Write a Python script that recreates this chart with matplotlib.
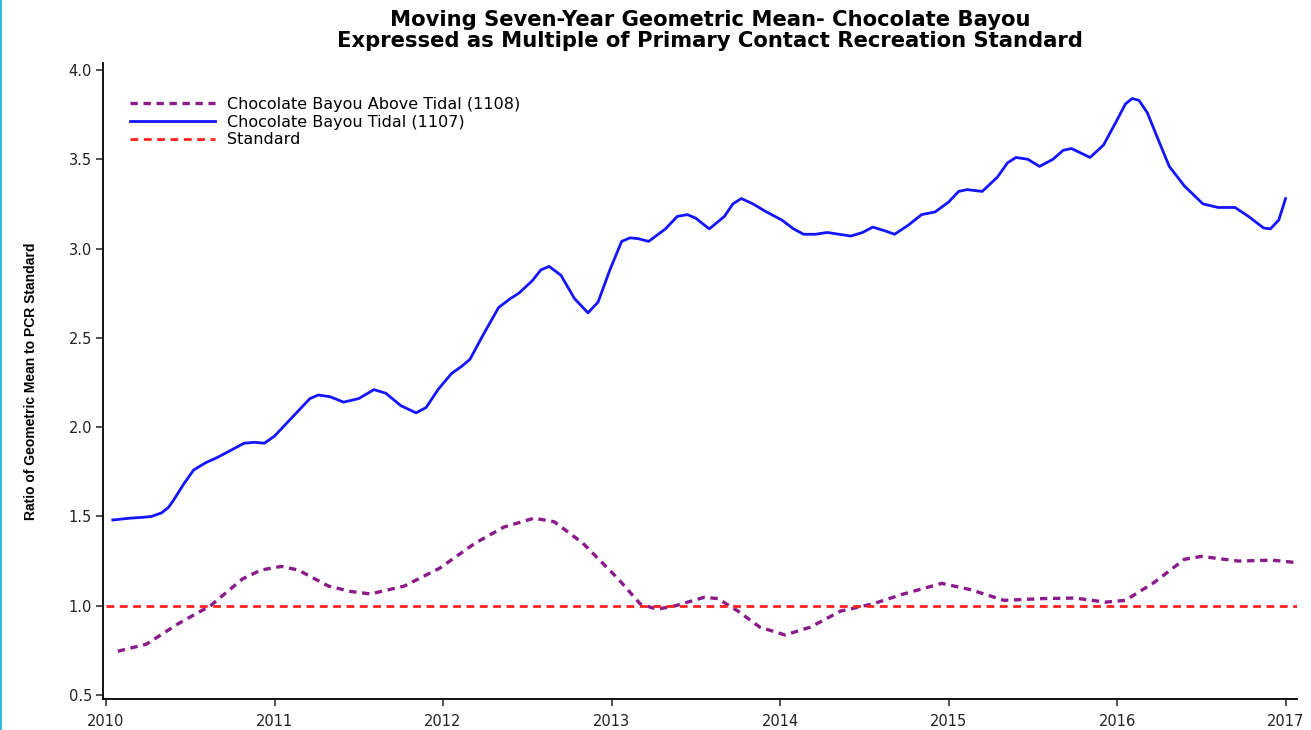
import matplotlib
matplotlib.use('Agg')
import matplotlib.pyplot as plt
from matplotlib.patches import Rectangle

# 读图估计的数据点 (年份, 比值)
TIDAL_X = [2010.04, 2010.14, 2010.22, 2010.27, 2010.33, 2010.37, 2010.40, 2010.46, 2010.52,
           2010.59, 2010.66, 2010.74, 2010.82, 2010.88, 2010.94, 2011.00, 2011.08, 2011.16,
           2011.21, 2011.26, 2011.33, 2011.41, 2011.50, 2011.59, 2011.66, 2011.75, 2011.84,
           2011.90, 2011.97, 2012.05, 2012.11, 2012.16, 2012.24, 2012.33, 2012.40, 2012.45,
           2012.53, 2012.58, 2012.63, 2012.70, 2012.78, 2012.86, 2012.92, 2012.99, 2013.06,
           2013.11, 2013.16, 2013.22, 2013.32, 2013.39, 2013.45, 2013.50, 2013.58, 2013.67,
           2013.72, 2013.77, 2013.84, 2013.91, 2014.01, 2014.08, 2014.14, 2014.21, 2014.28,
           2014.35, 2014.42, 2014.49, 2014.55, 2014.62, 2014.68, 2014.76, 2014.84, 2014.92,
           2015.00, 2015.06, 2015.11, 2015.20, 2015.29, 2015.35, 2015.40, 2015.47, 2015.54,
           2015.62, 2015.68, 2015.73, 2015.84, 2015.92, 2016.00, 2016.05, 2016.09, 2016.13,
           2016.18, 2016.24, 2016.31, 2016.40, 2016.51, 2016.60, 2016.70, 2016.78, 2016.87,
           2016.91, 2016.96, 2017.00]
TIDAL_Y = [1.48, 1.49, 1.495, 1.50, 1.52, 1.55, 1.59, 1.68, 1.76,
           1.80, 1.83, 1.87, 1.91, 1.915, 1.91, 1.95, 2.03, 2.11,
           2.16, 2.18, 2.17, 2.14, 2.16, 2.21, 2.19, 2.12, 2.08,
           2.11, 2.21, 2.30, 2.34, 2.38, 2.52, 2.67, 2.72, 2.75,
           2.82, 2.88, 2.90, 2.85, 2.72, 2.64, 2.70, 2.88, 3.04,
           3.06, 3.055, 3.04, 3.11, 3.18, 3.19, 3.17, 3.11, 3.18,
           3.25, 3.28, 3.25, 3.21, 3.16, 3.11, 3.08, 3.08, 3.09,
           3.08, 3.07, 3.09, 3.12, 3.10, 3.08, 3.13, 3.19, 3.205,
           3.26, 3.32, 3.33, 3.32, 3.40, 3.48, 3.51, 3.50, 3.46,
           3.50, 3.55, 3.56, 3.51, 3.58, 3.72, 3.81, 3.84, 3.83,
           3.76, 3.62, 3.46, 3.35, 3.25, 3.23, 3.23, 3.18, 3.115,
           3.11, 3.16, 3.28]

ABOVE_X = [2010.07, 2010.24, 2010.43, 2010.62, 2010.81, 2010.92, 2011.04, 2011.14, 2011.32,
           2011.45, 2011.57, 2011.77, 2011.98, 2012.19, 2012.36, 2012.54, 2012.66, 2012.83,
           2013.04, 2013.17, 2013.27, 2013.38, 2013.55, 2013.63, 2013.75, 2013.88, 2014.03,
           2014.18, 2014.36, 2014.55, 2014.73, 2014.96, 2015.13, 2015.33, 2015.56, 2015.75,
           2015.93, 2016.05, 2016.22, 2016.40, 2016.50, 2016.72, 2016.92, 2017.08]
ABOVE_Y = [0.745, 0.785, 0.90, 1.00, 1.15, 1.20, 1.22, 1.20, 1.11,
           1.08, 1.066, 1.11, 1.21, 1.35, 1.44, 1.49, 1.47, 1.35,
           1.15, 1.01, 0.98, 1.00, 1.047, 1.04, 0.97, 0.88, 0.836,
           0.88, 0.97, 1.01, 1.065, 1.125, 1.09, 1.03, 1.04, 1.043,
           1.02, 1.03, 1.13, 1.26, 1.276, 1.25, 1.255, 1.24]

STD_X = [2010.0, 2017.068]
STD_Y = [1.0, 1.0]

YTICKS = [0.5, 1.0, 1.5, 2.0, 2.5, 3.0, 3.5, 4.0]
XTICKS = [2010, 2011, 2012, 2013, 2014, 2015, 2016, 2017]

plt.rcParams['font.family'] = ['DejaVu Sans']

fig = plt.figure(figsize=(13.11, 7.30), dpi=100)
ax = fig.add_axes([103 / 1311, 1 - 699 / 730, 1194 / 1311, 636 / 730])

ax.plot(ABOVE_X, ABOVE_Y, color='#8b1a8b', lw=2.4, dashes=(2.2, 1.7),
        label='Chocolate Bayou Above Tidal (1108)')
ax.plot(TIDAL_X, TIDAL_Y, color='#1414ff', lw=2.0, solid_joinstyle='round',
        label='Chocolate Bayou Tidal (1107)')
ax.plot(STD_X, STD_Y, color='#ff2020', lw=2.0, dashes=(2.8, 2.0), label='Standard')

ax.set_xlim(2009.982, 2017.068)
ax.set_ylim(0.4776, 4.039)
ax.set_xticks(XTICKS)
ax.set_yticks(YTICKS)
ax.set_yticklabels([f'{v:.1f}' for v in YTICKS])
for s in ('top', 'right'):
    ax.spines[s].set_visible(False)
for s in ('left', 'bottom'):
    ax.spines[s].set_linewidth(1.3)
ax.tick_params(axis='both', direction='out', length=5, width=1.1, labelsize=10.5,
               colors='#222222', pad=3)
ax.tick_params(axis='x', pad=6)

ax.set_ylabel('Ratio of Geometric Mean to PCR Standard', family=['Liberation Sans'],
              fontweight='bold', fontsize=10, labelpad=22)

leg = ax.legend(loc='upper left', bbox_to_anchor=(0.0226, 0.947), frameon=False, fontsize=11.5,
                handlelength=5.3, handletextpad=0.8, labelspacing=0.18,
                borderpad=0, borderaxespad=0)

fig.text(0.5416, 0.973, 'Moving Seven-Year Geometric Mean- Chocolate Bayou', ha='center', va='center',
         fontsize=15.2, fontweight='bold')
fig.text(0.5416, 0.944, 'Expressed as Multiple of Primary Contact Recreation Standard', ha='center',
         va='center', fontsize=15.2, fontweight='bold')

fig.add_artist(Rectangle((0, 0), 2 / 1311, 1, transform=fig.transFigure, color='#33bcd6', lw=0))

fig.savefig('out.png', dpi=100)
